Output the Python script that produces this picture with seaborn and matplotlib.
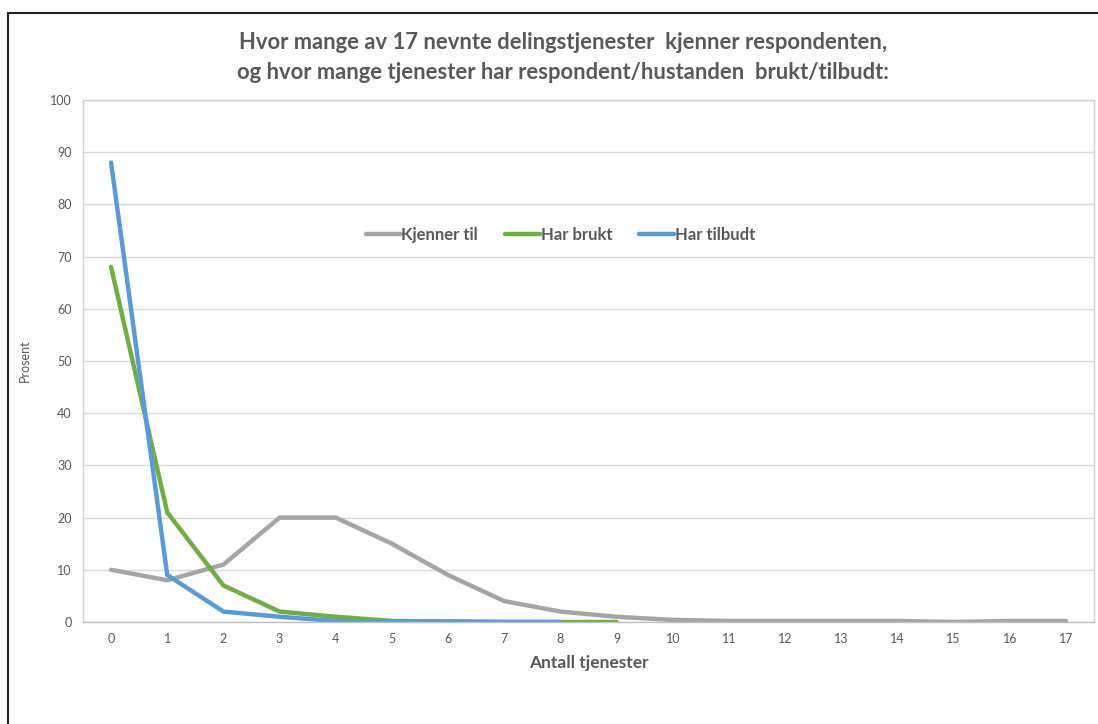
import matplotlib
matplotlib.use("Agg")
import matplotlib.pyplot as plt
from matplotlib.patches import Rectangle
import seaborn as sns
import pandas as pd

# Number of services (category axis)
antall = list(range(18))

# Percent of respondents per number of services
kjenner_til = [10, 8, 11, 20, 20, 15, 9, 4, 2, 1, 0.4, 0.2, 0.2, 0.2, 0.2, 0, 0.2, 0.2]
har_brukt = [68, 21, 7, 2, 1, 0.2, 0.1, 0, 0, 0]
har_tilbudt = [88, 9, 2, 1, 0.2, 0.1, 0.1, 0, 0]

serie_navn = ["Kjenner til", "Har brukt", "Har tilbudt"]
serie_farger = ["#A5A5A5", "#70AD47", "#5B9BD5"]

frames = []
for navn, verdier in zip(serie_navn, [kjenner_til, har_brukt, har_tilbudt]):
    frames.append(pd.DataFrame({"Antall": antall[:len(verdier)],
                                "Prosent": verdier,
                                "Serie": navn}))
df = pd.concat(frames, ignore_index=True)

sns.set_theme(style="white")
plt.rcParams["font.family"] = ["Lato", "DejaVu Sans"]

tekst = "#595959"
fig = plt.figure(figsize=(10.98, 7.24), dpi=100)
ax = fig.add_axes([83 / 1098, 1 - 622 / 724, (1094 - 83) / 1098, (622 - 100) / 724])

sns.lineplot(data=df, x="Antall", y="Prosent", hue="Serie",
             hue_order=serie_navn, palette=serie_farger,
             linewidth=3.2, ax=ax, legend=True)

ax.set_xlim(-0.5, 17.5)
ax.set_ylim(0, 100)
ax.set_xticks(antall)
ax.set_xticklabels([str(a) for a in antall])
ax.set_yticks(range(0, 101, 10))
ax.tick_params(axis="both", labelsize=9, colors=tekst, length=0, pad=8)
ax.grid(axis="y", color="#D9D9D9", linewidth=1)
ax.set_axisbelow(True)
for side in ["left", "right", "top"]:
    ax.spines[side].set_color("#D0D0D0")
    ax.spines[side].set_linewidth(1)
ax.spines["bottom"].set_color("#BFBFBF")
ax.spines["bottom"].set_linewidth(1)

ax.set_xlabel("Antall tjenester", fontsize=12.5, fontweight="bold", color=tekst, labelpad=7)
ax.set_ylabel("Prosent", fontsize=9, color=tekst, labelpad=14)

leg = ax.legend(loc="center", bbox_to_anchor=(0.472, 0.742), ncol=3, frameon=False,
                handlelength=2.1, handletextpad=0.05, columnspacing=1.6,
                prop={"weight": "bold", "size": 12})
for t in leg.get_texts():
    t.set_color(tekst)
for line in leg.get_lines():
    line.set_linewidth(3.2)

fig.text(0.513, 0.941, "Hvor mange av 17 nevnte delingstjenester  kjenner respondenten,",
         ha="center", va="center", fontsize=15.8, fontweight="bold", color=tekst)
fig.text(0.513, 0.900, "og hvor mange tjenester har respondent/hustanden  brukt/tilbudt:",
         ha="center", va="center", fontsize=15.8, fontweight="bold", color=tekst)

# Outer chart frame
fig.patches.append(Rectangle((8 / 1098, -0.2), 1.2, 0.2 + 1 - 13 / 724,
                             transform=fig.transFigure, fill=False,
                             edgecolor="#222222", linewidth=1.5))

fig.savefig("out.png", dpi=100, facecolor="white")
